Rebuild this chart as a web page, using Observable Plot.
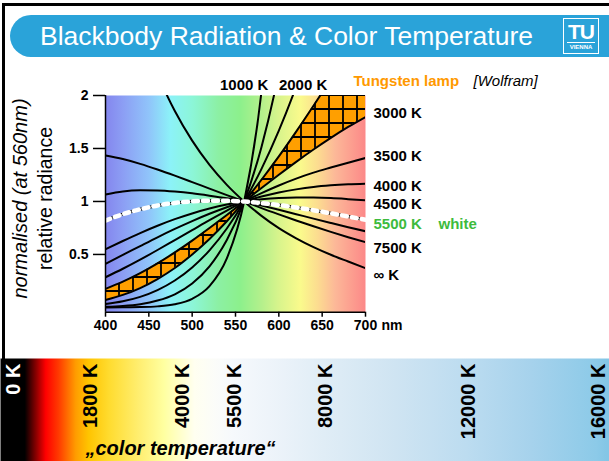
<!DOCTYPE html>
<html><head><meta charset="utf-8">
<script src="https://cdn.jsdelivr.net/npm/d3@7"></script>
<script src="https://cdn.jsdelivr.net/npm/@observablehq/plot@0.6"></script>
<style>
html,body{margin:0;padding:0;background:#fff}
body{width:609px;height:461px;position:relative;overflow:hidden;font-family:"Liberation Sans",Arial,sans-serif}
#border{position:absolute;left:2px;top:3px;width:607px;height:356px;border-top:3px solid #000;border-left:3px solid #000;box-sizing:border-box}
#titlebar{position:absolute;left:10px;top:15px;width:599px;height:42px;background:#2aa3d9;border-radius:21px 0 0 21px}
#title{position:absolute;left:40px;top:15px;height:42px;line-height:43px;color:#fff;font-size:26.5px;white-space:nowrap}
#tu{position:absolute;left:563px;top:18px;width:34px;height:34px;border:1.5px solid #fff;color:#fff;text-align:center}
#tu .t{font-weight:bold;font-size:21px;line-height:21px;letter-spacing:-1px;margin:2px 3px 0;border-bottom:1.5px solid #fff}
#tu .v{font-weight:bold;font-size:6px;line-height:8px}
.ytitle{position:absolute;width:260px;text-align:center;transform:rotate(-90deg);transform-origin:center center;white-space:nowrap;font-size:20px;color:#000}
#main{position:absolute;left:0;top:60px}
#bar{position:absolute;left:0;top:358px}
</style></head><body>
<div id="border"></div>
<div id="titlebar"></div>
<div id="title">Blackbody Radiation &amp; Color Temperature</div>
<div id="tu"><div class="t">TU</div><div class="v">VIENNA</div></div>
<div class="ytitle" style="left:-110px;top:187px;font-style:italic">normalised (at 560nm)</div>
<div class="ytitle" style="left:-85px;top:187px;font-size:19.5px">relative radiance</div>
<div id="main"></div>
<div id="bar"></div>
<script>
// ---- data ----
const wavelengths = [400,420,440,460,480,500,520,540,560,580,600,620,640,660,680,700];
const k1000 = [0,0.001,0.003,0.01,0.03,0.081,0.201,0.463,1,2.04,3.93,null,null,null,null,null];
const k1500 = [0.006,0.014,0.031,0.065,0.124,0.226,0.388,0.636,1,1.515,2.22,3.15,null,null,null,null];
const k2000 = [0.032,0.058,0.1,0.164,0.254,0.377,0.539,0.745,1,1.307,1.668,2.084,2.555,null,null,null];
const k2450 = [0.07,0.118,0.183,0.268,0.372,0.5,0.646,0.813,1,1.205,1.425,1.659,1.903,2.154,2.41,2.67];
const k3000 = [0.175,0.243,0.323,0.416,0.519,0.631,0.75,0.873,1,1.127,1.252,1.374,1.49,1.6,1.703,1.797];
const k3500 = [0.285,0.365,0.451,0.542,0.636,0.73,0.824,0.914,1,1.079,1.151,1.216,1.272,1.32,1.366,1.41];
const k4000 = [0.412,0.495,0.579,0.662,0.741,0.815,0.884,0.946,1,1.046,1.084,1.114,1.137,1.152,1.162,1.168];
const k4500 = [0.549,0.627,0.702,0.771,0.833,0.887,0.933,0.971,1,1.02,1.033,1.038,1.037,1.032,1.022,1.01];
const k5500 = [0.82,0.88,0.926,0.962,0.986,1.001,1.007,1.006,1,0.985,0.966,0.943,0.917,0.888,0.858,0.827];
const k6500 = [1.066,1.095,1.105,1.103,1.093,1.077,1.055,1.03,1,0.962,0.922,0.88,0.838,0.797,0.757,0.719];
const k7500 = [1.434,1.4,1.355,1.302,1.244,1.183,1.121,1.06,1,0.937,0.878,0.821,0.766,0.713,0.663,0.616];
const kInf  = [3.84,3.16,2.62,2.2,1.853,1.574,1.345,1.157,1,0.864,0.748,0.652,0.569,0.497,0.433,0.37];
const curveNames = ["1000 K","1500 K","2000 K","2450 K","3000 K","3500 K","4000 K","4500 K","6500 K","7500 K","∞ K"];
const curveValues = [k1000,k1500,k2000,k2450,k3000,k3500,k4000,k4500,k6500,k7500,kInf];

const xTicks = [400,450,500,550,600,650,700];
const yTicks = [0.5,1,1.5,2];
const topLabels = ["1000 K","2000 K"];
const topLabelNm = [560,628];
const rightLabels = ["3000 K","3500 K","4000 K","4500 K","5500 K","7500 K","∞ K"];
const rightLabelAt = [1.83,1.43,1.14,0.97,0.79,0.56,0.30];

const spectrumNm = [400,420,450,475,500,530,555,580,600,625,645,665,700];
const spectrumColor = ["#8486ee","#8c9ef4","#90c4fa","#8cf2f8","#8cf6d8","#8cf0a4","#8cf08c","#b4f08c","#d8f48c","#fafa8c","#fcdc90","#fcb898","#fc8888"];

const barTemps = [0,1800,4000,5500,8000,12000,16000];
const barStopK = [0,310,800,1100,1500,1800,2300,3000,3600,4400,5000,5500,6500,8000,10000,12000,14000,16000,16300];
const barStopColor = ["#000000","#000000","#ff0000","#ff3a00","#ff9c00","#ffc400","#ffdc30","#ffee70","#ffffa0","#fffff0","#fbfcf9","#f6f9fc","#eef4fa","#e0edf6","#cfe4f2","#bcdcf0","#a6d2ec","#8ccae8","#84c6e6"];

// ---- tables ----
const rows = curveNames.flatMap((t,i)=>wavelengths.map((w,j)=>({t,w,v:curveValues[i][j]})));
const rows5500 = wavelengths.map((w,j)=>({w,v:k5500[j]}));
const hatchRows = wavelengths.map((w,j)=>({w,lo:k3000[j],hi:k2450[j]}));
const rightRows = rightLabels.map((s,i)=>({s,at:rightLabelAt[i]}));
const topRows = topLabels.map((s,i)=>({s,w:topLabelNm[i]}));

const font = {fontFamily:"'Liberation Sans', Arial, sans-serif",fontSize:"14px",fontWeight:"bold",overflow:"visible",background:"transparent",color:"#000"};

const main = Plot.plot({
  width:609,height:277,
  marginLeft:105,marginRight:244,marginTop:35,marginBottom:25.3,
  x:{domain:[400,700],axis:null},
  y:{domain:[-0.045,2],axis:null},
  style:font,
  marks:[
    Plot.frame({fill:"url(#spec)"}),
    Plot.areaY(hatchRows,{x:"w",y1:"lo",y2:"hi",fill:"#ff9f00",curve:"monotone-x",clip:true}),
    Plot.areaY(hatchRows,{x:"w",y1:"lo",y2:"hi",fill:"url(#xh)",curve:"monotone-x",clip:true}),
    Plot.line(rows,{x:"w",y:"v",z:"t",stroke:"#000",strokeWidth:2,curve:"monotone-x",clip:true}),
    Plot.line(rows5500,{x:"w",y:"v",stroke:"#000",strokeWidth:3,curve:"monotone-x"}),
    Plot.line(rows5500,{x:"w",y:"v",stroke:"#fff",strokeWidth:4.5,strokeDasharray:"5,5",curve:"monotone-x"}),
    Plot.ruleX([400],{stroke:"#000",strokeWidth:1.5}),
    Plot.ruleY([-0.045],{stroke:"#000",strokeWidth:1.5}),
    Plot.axisY({ticks:yTicks,tickSize:12,tickPadding:5,tickFormat:d=>String(d),anchor:"left",label:null,strokeWidth:1.5}),
    Plot.axisX({ticks:xTicks,tickSize:5,tickPadding:3,tickFormat:d=>String(d),anchor:"bottom",label:null,strokeWidth:1.5}),
    Plot.text([{w:700,s:"nm"}],{x:"w",text:"s",frameAnchor:"bottom",lineAnchor:"top",dy:8,dx:16,textAnchor:"start"}),
    Plot.text(topRows,{x:"w",text:"s",frameAnchor:"top",dy:-16,fontSize:15}),
    Plot.text(["Tungsten lamp"],{x:()=>700,text:d=>d,frameAnchor:"top",dy:-20,dx:-12,textAnchor:"start",fill:"#ff9900",fontSize:15}),
    Plot.text(["[Wolfram]"],{x:()=>700,text:d=>d,frameAnchor:"top",dy:-20,dx:108,textAnchor:"start",fontWeight:"normal",fontStyle:"italic",fontSize:15}),
    Plot.text(rightRows,{x:()=>700,y:"at",text:"s",dx:8,textAnchor:"start",fontSize:15,fill:d=>d.s==="5500 K"?"#3dbb3d":"#000"}),
    Plot.text(["white"],{x:()=>700,y:()=>rightLabelAt[4],text:d=>d,dx:73,textAnchor:"start",fontSize:15,fill:"#3dbb3d"})
  ]
});
const mx = main.scale("x");
const specStops = spectrumNm.map((w,i)=>`<stop offset="${(mx.apply(w)-mx.apply(400))/(mx.apply(700)-mx.apply(400))}" stop-color="${spectrumColor[i]}"/>`).join("");
main.insertAdjacentHTML("afterbegin",`<defs><linearGradient id="spec" x1="0" x2="1" y1="0" y2="0">${specStops}</linearGradient>
<pattern id="xh" patternUnits="userSpaceOnUse" width="14" height="14"><path d="M0 7H14M7 0V14" stroke="#000" stroke-width="1.8"/></pattern></defs>`);
document.getElementById("main").appendChild(main);

const bar = Plot.plot({
  width:609,height:103,margin:0,
  x:{type:"linear",domain:[0,1800,4000,5500,8000,12000,16000],range:[11,88,180,232,323,466,596],axis:null},
  y:{domain:[0,1],axis:null},
  style:{...font,fontSize:"20px"},
  marks:[
    Plot.frame({fill:"url(#bargrad)"}),
    Plot.text(barTemps,{x:d=>d,text:d=>`${d} K`,frameAnchor:"top",rotate:-90,textAnchor:"end",dy:5,dx:-6,fill:d=>d===0?"#fff":"#000"}),
    Plot.text(["„color temperature“"],{x:()=>1800,text:d=>d,frameAnchor:"bottom",dy:-7,dx:-3,textAnchor:"start",fontStyle:"italic",fontSize:20})
  ]
});
const bx = bar.scale("x");
const barStops = barStopK.map((k,i)=>`<stop offset="${Math.min(1,bx.apply(k)/609)}" stop-color="${barStopColor[i]}"/>`).join("");
bar.insertAdjacentHTML("afterbegin",`<defs><linearGradient id="bargrad" x1="0" x2="1" y1="0" y2="0">${barStops}</linearGradient></defs>`);
document.getElementById("bar").appendChild(bar);
</script>
</body></html>
